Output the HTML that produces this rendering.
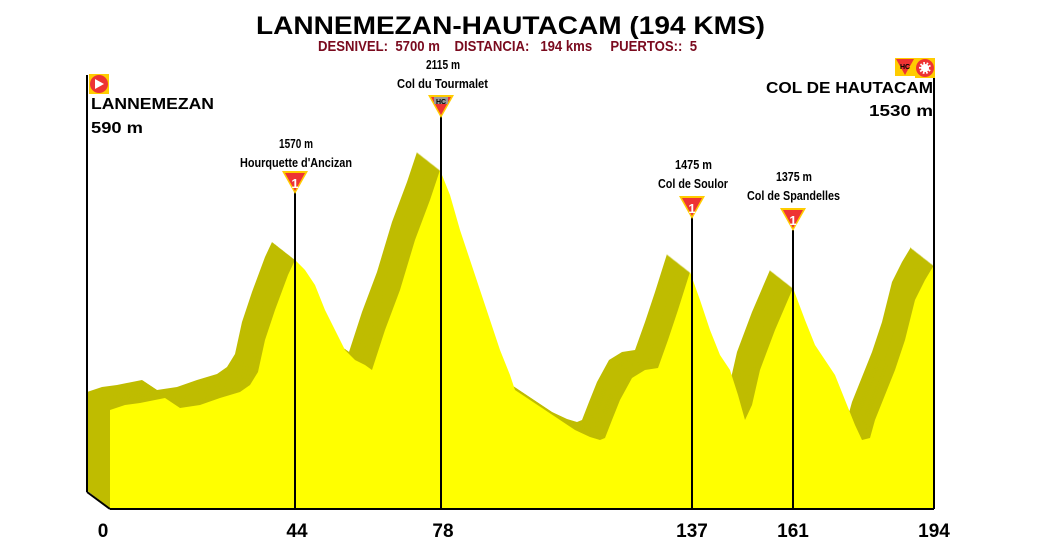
<!DOCTYPE html>
<html><head><meta charset="utf-8"><style>
html,body{margin:0;padding:0;background:#fff;width:1047px;height:554px;overflow:hidden}
svg{display:block}
.n{font-family:"Liberation Sans",sans-serif;font-weight:bold}
.b{font-family:"Liberation Sans",sans-serif;font-weight:bold}
</style></head><body>
<svg width="1047" height="554" viewBox="0 0 1047 554" xmlns="http://www.w3.org/2000/svg">
<defs>
<polygon id="p" points="110,509 110,410 125,405 140,403 155,400 165,398 180,408 200,405 220,398 240,392 250,385 258,372 265,340 275,310 288,275 295,260 305,270 315,285 325,310 335,330 345,350 355,360 365,365 372,370 385,330 400,290 415,240 430,200 440,170 450,195 460,230 470,260 480,290 490,320 500,350 510,375 515,390 530,400 545,410 560,420 575,430 590,437 600,440 605,438 612,420 620,400 632,378 645,370 658,368 668,340 678,310 690,272 700,300 710,330 720,355 730,370 738,395 745,420 752,405 760,370 775,330 793,288 805,320 815,345 825,360 835,375 845,400 855,425 862,440 870,438 875,420 885,395 895,370 905,340 915,300 925,280 934,265 934,509"/>
<g id="tri"><polygon points="-13,-1 13,-1 0,22" fill="#ffcc00"/><polygon points="-10,1 10,1 0,19" fill="#ee3333"/></g>
</defs>
<g fill="#bfbc00">
<use href="#p" transform="translate(-23,-18)"/><use href="#p" transform="translate(-22,-17.2)"/><use href="#p" transform="translate(-21,-16.4)"/><use href="#p" transform="translate(-20,-15.7)"/><use href="#p" transform="translate(-19,-14.9)"/><use href="#p" transform="translate(-18,-14.1)"/><use href="#p" transform="translate(-17,-13.3)"/><use href="#p" transform="translate(-16,-12.5)"/><use href="#p" transform="translate(-15,-11.7)"/><use href="#p" transform="translate(-14,-11)"/><use href="#p" transform="translate(-13,-10.2)"/><use href="#p" transform="translate(-12,-9.4)"/><use href="#p" transform="translate(-11,-8.6)"/><use href="#p" transform="translate(-10,-7.8)"/><use href="#p" transform="translate(-9,-7)"/><use href="#p" transform="translate(-8,-6.3)"/><use href="#p" transform="translate(-7,-5.5)"/><use href="#p" transform="translate(-6,-4.7)"/><use href="#p" transform="translate(-5,-3.9)"/><use href="#p" transform="translate(-4,-3.1)"/><use href="#p" transform="translate(-3,-2.3)"/><use href="#p" transform="translate(-2,-1.6)"/><use href="#p" transform="translate(-1,-0.8)"/>
</g>
<use href="#p" fill="#ffff00"/>
<g stroke="#000" stroke-width="2" fill="none">
<line x1="87" y1="75" x2="87" y2="492"/><line x1="87" y1="492" x2="110" y2="509"/><line x1="110" y1="509" x2="934" y2="509"/>
<line x1="934" y1="62" x2="934" y2="509"/>
<line x1="295" y1="190" x2="295" y2="509"/><line x1="441" y1="115" x2="441" y2="509"/><line x1="692" y1="215" x2="692" y2="509"/><line x1="793" y1="230" x2="793" y2="509"/>
</g>
<use href="#tri" transform="translate(295,172)"/><text x="295" y="188" class="b" font-size="13" fill="#fff" text-anchor="middle">1</text>
<use href="#tri" transform="translate(441,96)"/><rect x="434" y="97" width="14" height="7" fill="#999"/><text x="441" y="104" class="b" font-size="7" fill="#000" text-anchor="middle">HC</text>
<use href="#tri" transform="translate(692,197)"/><text x="692" y="213" class="b" font-size="13" fill="#fff" text-anchor="middle">1</text>
<use href="#tri" transform="translate(793,209)"/><text x="793" y="225" class="b" font-size="13" fill="#fff" text-anchor="middle">1</text>
<rect x="89" y="74" width="20" height="20" fill="#ffcc00"/><circle cx="99" cy="84" r="9" fill="#ee3333"/><polygon points="95,79 95,89 104,84" fill="#fff"/>
<rect x="895" y="58" width="20" height="18" fill="#ffcc00"/><polygon points="896,59 914,59 905,75" fill="#ee3333"/><text x="905" y="69" class="b" font-size="7" text-anchor="middle">HC</text>
<rect x="915" y="58" width="20" height="20" fill="#ffcc00"/><circle cx="925" cy="68" r="9" fill="#ee3333"/><circle cx="925" cy="68" r="6" fill="#fff" stroke="#ee3333" stroke-dasharray="2 2" stroke-width="4"/>
<text x="256" y="34" class="b" font-size="25" textLength="509" lengthAdjust="spacingAndGlyphs">LANNEMEZAN-HAUTACAM (194 KMS)</text>
<text x="318" y="51" class="n" font-size="15" fill="#7a0a1e" textLength="379" lengthAdjust="spacingAndGlyphs" xml:space="preserve">DESNIVEL:  5700 m    DISTANCIA:   194 kms     PUERTOS::  5</text>
<text x="91" y="109" class="b" font-size="16" textLength="123" lengthAdjust="spacingAndGlyphs">LANNEMEZAN</text>
<text x="91" y="133" class="b" font-size="16" textLength="52" lengthAdjust="spacingAndGlyphs">590 m</text>
<text x="766" y="93" class="b" font-size="16" textLength="167" lengthAdjust="spacingAndGlyphs">COL DE HAUTACAM</text>
<text x="869" y="116" class="b" font-size="16" textLength="64" lengthAdjust="spacingAndGlyphs">1530 m</text>
<g class="n" font-size="13" font-weight="normal" lengthAdjust="spacingAndGlyphs">
<text x="279" y="148" textLength="34" lengthAdjust="spacingAndGlyphs">1570 m</text><text x="240" y="167" textLength="112" lengthAdjust="spacingAndGlyphs">Hourquette d'Ancizan</text>
<text x="426" y="69" textLength="34" lengthAdjust="spacingAndGlyphs">2115 m</text><text x="397" y="88" textLength="91" lengthAdjust="spacingAndGlyphs">Col du Tourmalet</text>
<text x="675" y="169" textLength="37" lengthAdjust="spacingAndGlyphs">1475 m</text><text x="658" y="188" textLength="70" lengthAdjust="spacingAndGlyphs">Col de Soulor</text>
<text x="776" y="181" textLength="36" lengthAdjust="spacingAndGlyphs">1375 m</text><text x="747" y="200" textLength="93" lengthAdjust="spacingAndGlyphs">Col de Spandelles</text>
</g>
<g class="b" font-size="19" text-anchor="middle">
<text x="103" y="537">0</text><text x="297" y="537">44</text><text x="443" y="537">78</text><text x="692" y="537">137</text><text x="793" y="537">161</text><text x="934" y="537">194</text>
</g>
</svg>
</body></html>
